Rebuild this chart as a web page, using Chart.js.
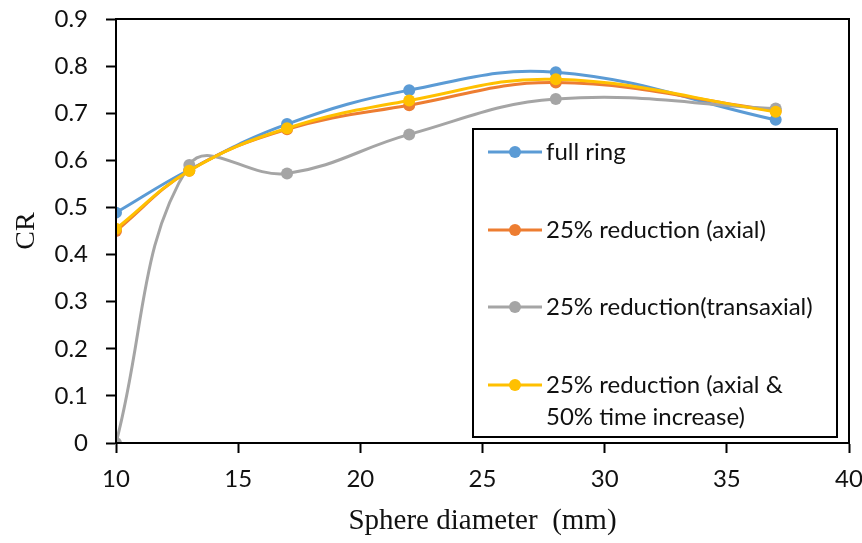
<!DOCTYPE html>
<html>
<head>
<meta charset="utf-8">
<script src="https://cdn.jsdelivr.net/npm/chart.js@4/dist/chart.umd.min.js"></script>
<style>
  html, body { margin: 0; padding: 0; background: #fff; }
  #wrap { width: 862px; height: 543px; }
</style>
</head>
<body>
<div id="wrap"><canvas id="myCanvas" width="862" height="543"></canvas></div>
<script>
// sphere diameters (mm)
var diameters = [10, 13, 17, 22, 28, 37];

var fullRing = [0.489, 0.580, 0.677, 0.749, 0.787, 0.686];
var axial = [0.450, 0.578, 0.666, 0.717, 0.765, 0.705];
var transaxial = [0.0, 0.590, 0.572, 0.655, 0.730, 0.710];
var axialTime = [0.455, 0.578, 0.668, 0.727, 0.772, 0.703];

var seriesNames = [
    ['full ring'],
    ['25% reduction (axial)'],
    ['25% reduction(transaxial)'],
    ['25% reduction (axial &', '50% time increase)']
];
var seriesColors = ['#5B9BD5', '#ED7D31', '#A5A5A5', '#FFC000'];

var xTicks = [10, 15, 20, 25, 30, 35, 40];
var yTicks = [0, 0.1, 0.2, 0.3, 0.4, 0.5, 0.6, 0.7, 0.8, 0.9];

var labelFont = 'Lato';

function MakeSeries(values, i) {
    var pts = [];
    for (var k = 0; k < diameters.length; k++) {
        pts.push({ x: diameters[k], y: values[k] });
    }
    return {
        label: seriesNames[i].join(' '),
        data: pts,
        borderColor: seriesColors[i],
        backgroundColor: seriesColors[i],
        borderWidth: 3,
        pointRadius: 6,
        pointHoverRadius: 6,
        pointBorderWidth: 0,
        tension: 0.4,
        order: 4 - i // later series on top, as in Excel
    };
}

// plot frame + legend box drawn by hand, like the Excel original
var frameAndLegend = {
    id: 'frameAndLegend',
    afterDatasetsDraw: function (chart) {
        var ctx = chart.ctx, a = chart.chartArea;
        ctx.save();
        ctx.strokeStyle = '#000';
        ctx.lineWidth = 2;
        ctx.strokeRect(a.left, a.top, a.right - a.left, a.bottom - a.top);

        // legend
        var bx = 473, by = 129, bw = 364, bh = 308;
        ctx.fillStyle = '#fff';
        ctx.fillRect(bx, by, bw, bh);
        ctx.strokeRect(bx, by, bw, bh);

        var rows = [152, 230, 307, 385];
        ctx.font = '24px ' + labelFont;
        ctx.textBaseline = 'middle';
        chart.data.datasets.forEach(function (ds, i) {
            var y = rows[i];
            ctx.strokeStyle = ds.borderColor;
            ctx.lineWidth = 3;
            ctx.beginPath();
            ctx.moveTo(488, y);
            ctx.lineTo(542, y);
            ctx.stroke();
            ctx.fillStyle = ds.backgroundColor;
            ctx.beginPath();
            ctx.arc(515, y, 6, 0, Math.PI * 2);
            ctx.fill();
            ctx.fillStyle = '#111';
            seriesNames[i].forEach(function (line, j) {
                ctx.fillText(line, 546, y + j * 32);
            });
        });
        ctx.restore();
    }
};

var ctx = document.getElementById('myCanvas').getContext('2d');
var myChart = new Chart(ctx, {
    type: 'line',
    data: {
        datasets: [
            MakeSeries(fullRing, 0),
            MakeSeries(axial, 1),
            MakeSeries(transaxial, 2),
            MakeSeries(axialTime, 3)
        ]
    },
    options: {
        responsive: false,
        animation: false,
        layout: { padding: { top: 19, right: 13, left: 0, bottom: 0 } },
        plugins: { legend: { display: false }, tooltip: { enabled: false } },
        scales: {
            x: {
                type: 'linear',
                min: xTicks[0],
                max: xTicks[xTicks.length - 1],
                afterBuildTicks: function (scale) {
                    scale.ticks = xTicks.map(function (v) { return { value: v }; });
                },
                afterFit: function (scale) {
                    scale.height = 100;
                    scale.paddingLeft = 0;
                    scale.paddingRight = 0;
                },
                ticks: { color: '#111', font: { family: labelFont, size: 24 }, padding: 12, autoSkip: false, maxRotation: 0 },
                grid: { drawOnChartArea: false, drawTicks: true, tickLength: 10, tickColor: '#000', tickWidth: 2 },
                border: { color: '#000', width: 2 },
                title: { display: true, text: 'Sphere diameter  (mm)', color: '#111', font: { family: 'Liberation Serif', size: 29 }, padding: { top: 2 } }
            },
            y: {
                min: yTicks[0],
                max: yTicks[yTicks.length - 1],
                afterBuildTicks: function (scale) {
                    scale.ticks = yTicks.map(function (v) { return { value: v }; });
                },
                afterFit: function (scale) {
                    scale.width = 116;
                    scale.paddingTop = 0;
                    scale.paddingBottom = 0;
                },
                ticks: {
                    color: '#111', font: { family: labelFont, size: 24 }, padding: 18,
                    callback: function (v) { return String(Math.round(v * 10) / 10); }
                },
                grid: { drawOnChartArea: false, drawTicks: true, tickLength: 10, tickColor: '#000', tickWidth: 2 },
                border: { color: '#000', width: 2 },
                title: { display: true, text: 'CR', color: '#111', font: { family: 'Liberation Serif', size: 28 }, padding: { top: 10, bottom: 0 } }
            }
        }
    },
    plugins: [frameAndLegend]
});
</script>
</body>
</html>
